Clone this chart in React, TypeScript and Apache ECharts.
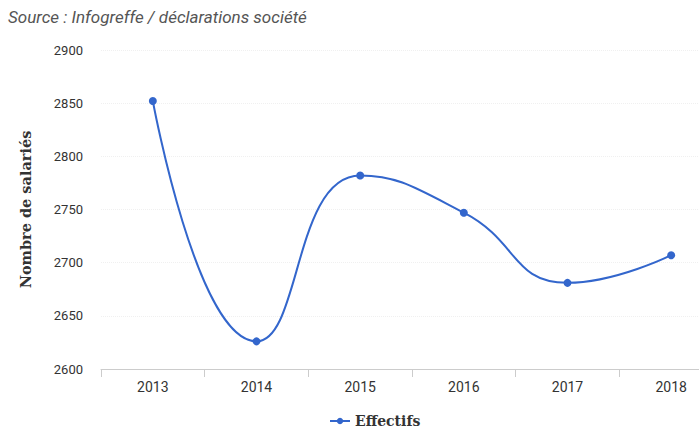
import React, { useEffect, useRef } from "react";
import * as echarts from "echarts";

const years = ["2013", "2014", "2015", "2016", "2017", "2018"];
const effectifs = [2852, 2626, 2782, 2747, 2681, 2707];
const seriesName = "Effectifs";
const yAxisName = "Nombre de salariés";
const sourceText = "Source : Infogreffe / déclarations société";

export default function App() {
  const ref = useRef<HTMLDivElement>(null);
  useEffect(() => {
    if (!ref.current) return;
    const chart = echarts.init(ref.current, null, { renderer: "svg" });
    chart.setOption({
      animation: false,
      backgroundColor: "#ffffff",
      graphic: [
        {
          type: "text",
          left: 8,
          top: 8,
          style: {
            text: sourceText,
            font: "italic 17px Roboto",
            fill: "#555555",
          },
        },
      ],
      legend: {
        data: [seriesName],
        left: 324,
        top: 410,
        padding: [4, 5, 2, 5],
        itemWidth: 20,
        itemHeight: 8,
        itemGap: 5,
        textStyle: {
          fontFamily: "DejaVu Serif",
          fontWeight: "bold",
          fontSize: 14,
          color: "#333333",
        },
      },
      grid: { left: 101, right: 0, top: 50, height: 319 },
      xAxis: {
        type: "category",
        data: years,
        boundaryGap: true,
        axisLine: { lineStyle: { color: "#cccccc" } },
        axisTick: { show: true, length: 8, lineStyle: { color: "#cccccc" } },
        axisLabel: { color: "#333333", fontFamily: "Roboto", fontSize: 14, margin: 11 },
      },
      yAxis: {
        type: "value",
        min: 2600,
        max: 2900,
        interval: 50,
        name: yAxisName,
        nameLocation: "middle",
        nameGap: 68,
        nameRotate: 90,
        nameTextStyle: {
          fontFamily: "DejaVu Serif",
          fontWeight: "bold",
          fontSize: 14.5,
          color: "#333333",
        },
        axisLine: { show: false },
        axisTick: { show: false },
        axisLabel: {
          color: "#333333",
          fontFamily: "Roboto",
          fontSize: 13,
          margin: 18,
          formatter: (v: number) => String(v),
        },
        splitLine: { lineStyle: { color: "#f0f0f0", type: "dotted" } },
      },
      series: [
        {
          name: seriesName,
          type: "line",
          data: effectifs,
          smooth: true,
          symbol: "circle",
          symbolSize: 8,
          itemStyle: { color: "#3366cc" },
          lineStyle: { color: "#3366cc", width: 2 },
        },
      ],
    });
    return () => chart.dispose();
  }, []);
  return (
    <div
      style={{
        position: "fixed",
        left: 0,
        top: 0,
        width: 699,
        height: 432,
        overflow: "hidden",
        background: "#ffffff",
      }}
    >
      <div ref={ref} style={{ width: 723, height: 432 }} />
    </div>
  );
}
